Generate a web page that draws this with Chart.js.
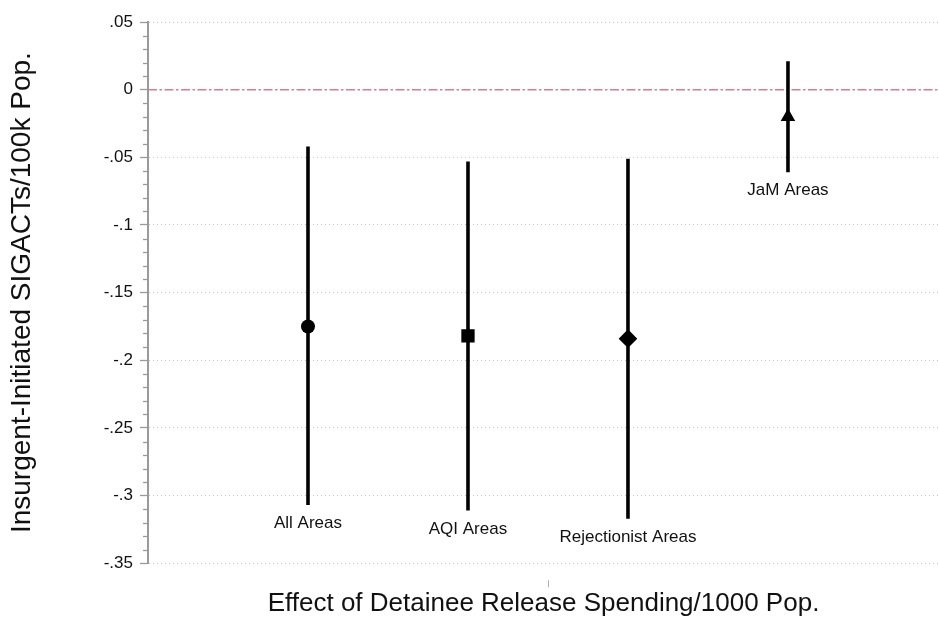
<!DOCTYPE html>
<html>
<head>
<meta charset="utf-8">
<script src="https://cdn.jsdelivr.net/npm/chart.js@4.4.0/dist/chart.umd.min.js"></script>
<style>
  html, body { margin: 0; padding: 0; background: #fff; overflow: hidden; }
  #wrap { width: 939px; height: 617px; }
</style>
</head>
<body>
<div id="wrap"><canvas id="c" width="939" height="617"></canvas></div>
<script>
// Effect estimates with 95% confidence intervals by area type
const categories = ['All Areas', 'AQI Areas', 'Rejectionist Areas', 'JaM Areas'];
const estimates  = [-0.175, -0.182, -0.184, -0.020];
const ciLow      = [-0.307, -0.311, -0.317, -0.061];
const ciHigh     = [-0.042, -0.053, -0.051, 0.021];
const markers    = ['circle', 'rect', 'rectRot', 'triangle'];
const markerSize = [7, 9.4, 9.3, 8.4];
const yTicks     = [-0.35, -0.3, -0.25, -0.2, -0.15, -0.1, -0.05, 0, 0.05];
const REF_Y = 0;
const X_MIN = 0, X_MAX = 4.944;

const FONT = '"Liberation Sans", Arial, Helvetica, sans-serif';
const positions = categories.map((_, i) => i + 1);

function fmtTick(v) {
  if (Math.abs(v) < 1e-9) return '0';
  let s = (+v.toFixed(2)).toString();
  return s.replace('0.', '.');
}

const datasets = [];
// zero reference line
datasets.push({
  type: 'line',
  data: [{ x: X_MIN, y: REF_Y }, { x: X_MAX, y: REF_Y }],
  borderColor: '#d27f92',
  borderWidth: 1.5,
  borderDash: [9, 2.5, 2.5, 2.5],
  pointRadius: 0,
  order: 3
});
// confidence interval spikes
positions.forEach((x, i) => {
  datasets.push({
    type: 'line',
    data: [{ x: x, y: ciLow[i] }, { x: x, y: ciHigh[i] }],
    borderColor: '#000',
    borderWidth: 3.6,
    pointRadius: 0,
    order: 2
  });
});
// point estimates
datasets.push({
  type: 'scatter',
  data: positions.map((x, i) => ({ x: x, y: estimates[i] })),
  pointStyle: markers,
  pointRadius: markerSize,
  backgroundColor: '#000',
  borderColor: '#000',
  borderWidth: 0,
  order: 1
});

const extrasPlugin = {
  id: 'extras',
  afterDraw(chart) {
    const ctx = chart.ctx;
    const ys = chart.scales.y, xs = chart.scales.x;
    const left = chart.chartArea.left;
    ctx.save();
    // minor ticks on y axis
    ctx.strokeStyle = '#9a9a9a';
    ctx.lineWidth = 1.3;
    for (let k = -35; k <= 5; k++) {
      if (k % 5 === 0) continue;
      const py = Math.round(ys.getPixelForValue(k / 100)) + 0.5;
      ctx.beginPath();
      ctx.moveTo(left - 5, py);
      ctx.lineTo(left, py);
      ctx.stroke();
    }
    // single x axis tick at the center of the categories
    const cx = xs.getPixelForValue((positions[0] + positions[positions.length - 1]) / 2);
    const bottom = chart.chartArea.bottom;
    ctx.strokeStyle = '#b0b0b0';
    ctx.lineWidth = 1;
    ctx.beginPath();
    ctx.moveTo(Math.round(cx) + 0.5, bottom + 17);
    ctx.lineTo(Math.round(cx) + 0.5, bottom + 24);
    ctx.stroke();
    // category labels under each interval
    ctx.fillStyle = '#111';
    ctx.font = '17px ' + FONT;
    ctx.textAlign = 'center';
    ctx.textBaseline = 'top';
    positions.forEach((x, i) => {
      const px = xs.getPixelForValue(x);
      const py = ys.getPixelForValue(ciLow[i]);
      ctx.fillText(categories[i], px, py + 10);
    });
    ctx.restore();
  }
};

new Chart(document.getElementById('c'), {
  data: { datasets },
  options: {
    responsive: false,
    animation: false,
    events: [],
    layout: { autoPadding: false, padding: { top: 22, right: 0, bottom: 0, left: 0 } },
    plugins: { legend: { display: false }, tooltip: { enabled: false } },
    scales: {
      x: {
        type: 'linear',
        min: X_MIN,
        max: X_MAX,
        ticks: { display: false },
        grid: { display: false },
        border: { display: false },
        title: {
          display: true,
          text: 'Effect of Detainee Release Spending/1000 Pop.',
          color: '#111',
          font: { family: FONT, size: 26, lineHeight: 1 },
          padding: { top: 0, bottom: 0.5 }
        },
        afterFit(s) { s.height = 53.7; }
      },
      y: {
        type: 'linear',
        min: -0.35,
        max: 0.05,
        afterBuildTicks(s) { s.ticks = yTicks.map(v => ({ value: v })); },
        ticks: {
          color: '#111',
          font: { family: FONT, size: 17 },
          padding: 7,
          callback: (v) => fmtTick(v)
        },
        grid: {
          color: (c) => (c.tick && Math.abs(c.tick.value) < 1e-9) ? 'rgba(0,0,0,0)' : '#c4c4c4',
          lineWidth: 1,
          tickColor: '#9a9a9a',
          tickLength: 8,
          tickWidth: 1.3
        },
        border: { display: true, color: '#9a9a9a', width: 2, dash: [1, 3] },
        title: {
          display: true,
          text: 'Insurgent-Initiated SIGACTs/100k Pop.',
          color: '#111',
          font: { family: FONT, size: 28, lineHeight: 1 },
          padding: { top: 8, bottom: 0 }
        },
        afterFit(s) { s.width = 148; }
      }
    }
  },
  plugins: [extrasPlugin]
});
</script>
</body>
</html>
